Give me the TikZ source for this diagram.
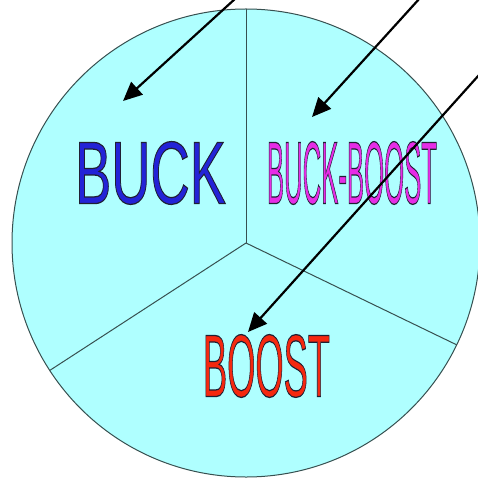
\documentclass[tikz,border=0pt]{standalone}
\usepackage{fontspec}
\setsansfont{Liberation Sans}
\usetikzlibrary{arrows.meta}
\definecolor{pie}{RGB}{175,255,255}
\definecolor{rim}{RGB}{55,80,80}
\definecolor{buckc}{RGB}{35,35,215}
\definecolor{bbc}{RGB}{230,45,230}
\definecolor{boostc}{RGB}{245,40,15}
\newcommand{\outlined}[1]{\special{pdf:literal direct 2 Tr 0.14 w 0.12 0.12 0.2 RG}#1\special{pdf:literal direct 0 Tr}}
\tikzset{
  rimline/.style={draw=rim, line width=1pt},
  pointer/.style={draw=black, line width=2.2pt, -{Triangle[length=19pt,width=17pt]}},
  label/.style={inner sep=0pt, font=\sffamily}
}
\begin{document}
\begin{tikzpicture}[x=1pt,y=-1pt]
\useasboundingbox (0,0) rectangle (477,478);
\coordinate (c) at (246,243);
\fill[pie] (c) circle[radius=234];
\draw[rimline] (c) circle[radius=234];
\coordinate (ptop) at (246,9);
\coordinate (pll) at (49.8,370.4);
\coordinate (plr) at (456.6,344.8);
\draw[rimline] (c) -- (ptop);
\draw[rimline] (c) -- (pll);
\draw[rimline] (c) -- (plr);
\node[label, text=buckc] (buck) at (150.5,173) {\resizebox{151pt}{62pt}{\outlined{BUCK}}};
\node[label, text=bbc] (bb) at (352,173) {\resizebox{170pt}{62pt}{\outlined{BUCK-BOOST}}};
\node[label, text=boostc] (boost) at (266.5,366) {\resizebox{127pt}{62pt}{\outlined{BOOST}}};
\coordinate (s1) at (236,-2);
\coordinate (t1) at (123,101);
\coordinate (s2) at (420,-2);
\coordinate (t2) at (312,117);
\coordinate (s3) at (479,75);
\coordinate (t3) at (248,332);
\draw[pointer] (s1) -- (t1);
\draw[pointer] (s2) -- (t2);
\draw[pointer] (s3) -- (t3);
\end{tikzpicture}
\end{document}
